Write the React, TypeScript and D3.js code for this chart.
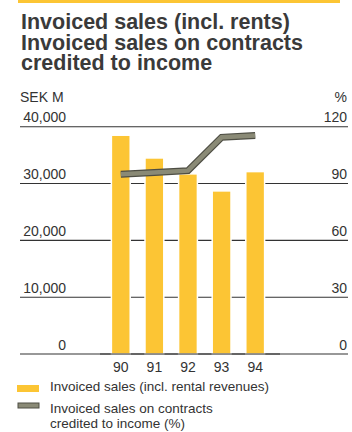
import React from "react";
import * as d3 from "d3";

const years = ["90", "91", "92", "93", "94"];
const sales = [38500, 34500, 31700, 28700, 32100];
const creditedPct = [94.9, 95.8, 96.8, 114.4, 115.4];
const leftTicks = [0, 10000, 20000, 30000, 40000];
const rightTicks = [0, 30, 60, 90, 120];
const titleLines = [
  "Invoiced sales (incl. rents)",
  "Invoiced sales on contracts",
  "credited to income",
];

const W = 352;
const H = 432;
const FONT = "'Liberation Sans', Arial, Helvetica, sans-serif";
const YELLOW = "#fcc534";
const TEXT = "#333";

export default function App() {
  const top = 126.7;
  const bottom = 354;
  const gridL = 20;
  const gridR = 348;

  const x = d3.scaleBand<string>().domain(years).range([104, 272]).paddingInner(0.44).paddingOuter(0.22);
  const yL = d3.scaleLinear().domain([0, 40000]).range([bottom, top]);
  const yR = d3.scaleLinear().domain([0, 120]).range([bottom, top]);
  const fmt = d3.format(",");

  const linePath = d3
    .line<number>()
    .x((_, i) => (x(years[i]) as number) + x.bandwidth() / 2)
    .y((d) => yR(d))(creditedPct) as string;

  return (
    <svg
      width={W}
      height={H}
      style={{ position: "absolute", left: 0, top: 0, background: "#fff" }}
      fontFamily={FONT}
    >
      <rect x={18} y={0} width={322} height={3} fill={YELLOW} />
      <text x={21} y={29} fontSize={21.5} fontWeight="bold" fill="#3a3a3a">
        {titleLines.map((t, i) => (
          <tspan key={i} x={21} y={29 + i * 20.5}>
            {t}
          </tspan>
        ))}
      </text>

      <text x={20} y={101.5} fontSize={14} fill={TEXT}>SEK M</text>
      <text x={347} y={101.5} fontSize={14} fill={TEXT} textAnchor="end">%</text>

      {leftTicks.map((t) => (
        <g key={t}>
          <line x1={gridL} x2={gridR} y1={yL(t)} y2={yL(t)} stroke="#333" strokeWidth={1.1} />
          <text x={66} y={yL(t) - 4.5} fontSize={14} fill={TEXT} textAnchor="end">
            {fmt(t)}
          </text>
        </g>
      ))}
      {rightTicks.map((t) => (
        <text key={t} x={347} y={yR(t) - 4.5} fontSize={14} fill={TEXT} textAnchor="end">
          {t}
        </text>
      ))}

      {sales.map((v, i) => (
        <rect
          key={i}
          x={x(years[i])}
          y={yL(v)}
          width={x.bandwidth()}
          height={bottom - yL(v)}
          fill={YELLOW}
          stroke="#fff"
          strokeWidth={1.5}
        />
      ))}
      <line x1={100} x2={280} y1={bottom} y2={bottom} stroke="#333" strokeWidth={1.1} />

      <path d={linePath} fill="none" stroke="#4e4e44" strokeWidth={7} strokeLinejoin="miter" />
      <path d={linePath} fill="none" stroke="#8a8a76" strokeWidth={4.5} strokeLinejoin="miter" />

      {years.map((yr) => (
        <text
          key={yr}
          x={(x(yr) as number) + x.bandwidth() / 2}
          y={371.5}
          fontSize={14}
          fill={TEXT}
          textAnchor="middle"
        >
          {yr}
        </text>
      ))}

      <rect x={17} y={385} width={22} height={7} fill={YELLOW} />
      <text x={50} y={390.5} fontSize={13.5} fill={TEXT}>Invoiced sales (incl. rental revenues)</text>
      <rect x={18} y={403} width={21} height={5} fill="#8a8a76" stroke="#4e4e44" strokeWidth={1} />
      <text x={50} y={413} fontSize={13.5} fill={TEXT}>
        <tspan x={50} y={413}>Invoiced sales on contracts</tspan>
        <tspan x={50} y={428}>credited to income (%)</tspan>
      </text>
    </svg>
  );
}
